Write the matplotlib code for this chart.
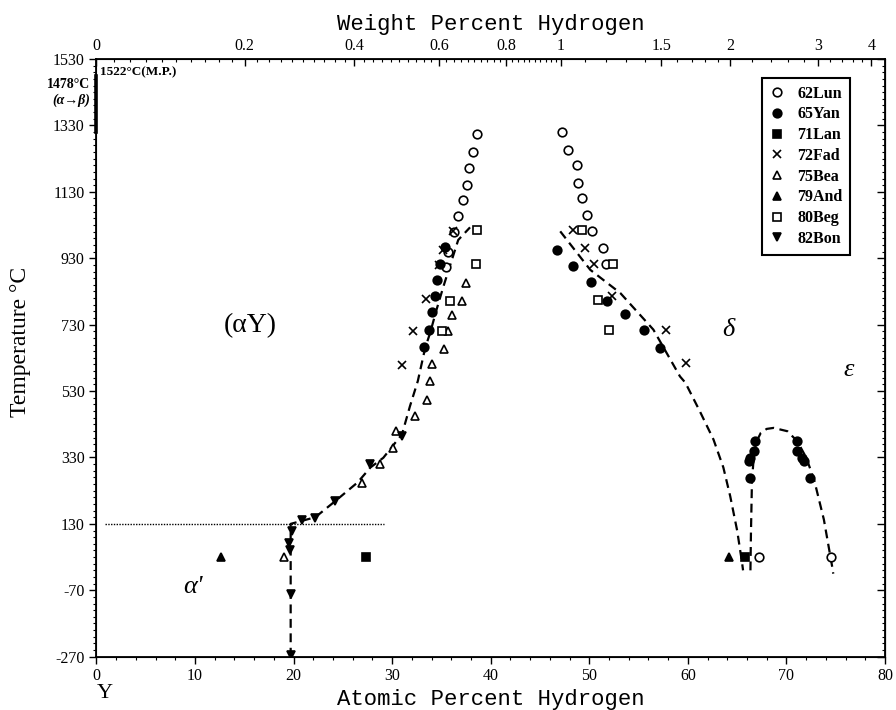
import matplotlib.pyplot as plt
import numpy as np

plt.rcParams['font.family'] = ['Liberation Serif', 'DejaVu Serif']
plt.rcParams['axes.unicode_minus'] = False

# data: (atomic % H, temperature in C)
lun_x = [38.6, 38.25, 37.8, 37.6, 37.2, 36.7, 36.3, 35.7, 35.45,
         47.2, 47.8, 48.75, 48.85, 49.25, 49.8, 50.3, 51.4, 51.7,
         67.2, 74.55]
lun_t = [1304, 1251, 1202, 1152, 1106, 1056, 1009, 950, 905,
         1310, 1256, 1211, 1158, 1111, 1061, 1013, 962, 913,
         30, 30]

yan_x = [35.4, 34.9, 34.5, 34.3, 34.0, 33.75, 33.25,
         46.7, 48.3, 50.2, 51.8, 53.65, 55.5, 57.2,
         66.85, 66.7, 66.35, 66.2, 66.35,
         71.1, 71.1, 71.6, 71.75, 72.35]
yan_t = [964, 913, 863, 815, 767, 713, 662,
         955, 907, 857, 800, 762, 713, 660,
         379, 349, 329, 320, 269,
         379, 349, 329, 319, 269]

lan_x = [27.3, 65.8]
lan_t = [30, 30]

fad_x = [36.15, 35.2, 34.7, 33.4, 32.1, 31.0,
         48.3, 49.6, 50.5, 52.3, 57.8, 59.85]
fad_t = [1011, 956, 910, 808, 712, 608,
         1014, 961, 913, 815, 715, 615]

bea_x = [37.5, 37.1, 36.05, 35.7, 35.3, 34.0, 33.85, 33.5, 32.3, 30.4,
         30.1, 28.8, 26.9, 19.0]
bea_t = [855, 802, 760, 710, 657, 610, 559, 504, 456, 409,
         359, 309, 254, 30]

and_x = [12.6, 64.2]
and_t = [30, 30]

beg_x = [38.6, 38.5, 35.9, 35.05, 49.25, 52.4, 50.9, 51.95]
beg_t = [1014, 912, 802, 710, 1014, 913, 805, 715]

bon_x = [31.0, 27.8, 24.2, 22.2, 20.8, 19.8, 19.5, 19.65, 19.7, 19.7]
bon_t = [394, 309, 198, 148, 143, 108, 71, 50, -80, -265]

# phase boundaries
ay_x = [19.7, 19.7, 20.7, 22.2, 24.2, 26.5, 27.8, 29.1, 31.0, 31.8, 32.6,
        33.35, 33.85, 34.5, 35.2, 36.0, 36.7, 37.9]
ay_t = [-270, 130, 138, 150, 198, 255, 300, 329, 400, 484, 560,
        660, 705, 775, 845, 920, 985, 1023]

delta_x = [47.05, 50.1, 53.15, 56.5, 59.2, 59.75, 61.2, 62.6, 63.6, 64.3, 65.0, 65.5, 65.6]
delta_t = [1011, 895, 825, 715, 574, 555, 470, 384, 300, 213, 110, 13, -10]

eps_x = [66.35, 66.4, 66.5, 66.7, 67.0, 67.4, 68.0, 68.7, 70.1, 71.1, 72.0, 72.8, 73.8, 74.65, 74.75]
eps_t = [-10, 100, 254, 340, 380, 404, 416, 419, 409, 379, 330, 264, 143, 0, -20]

y_ticks = [-270, -70, 130, 330, 530, 730, 930, 1130, 1330, 1530]
x_ticks = [0, 10, 20, 30, 40, 50, 60, 70, 80]
wt_ticks = [0, 0.2, 0.4, 0.6, 0.8, 1, 1.5, 2, 3, 4]
wt_labels = ['0', '0.2', '0.4', '0.6', '0.8', '1', '1.5', '2', '3', '4']


def wt_to_at(w):
    w = np.asarray(w, dtype=float)
    h = w / 1.008
    y = (100 - w) / 88.906
    return 100 * h / (h + y)


fig = plt.figure(figsize=(8.96, 7.10), dpi=100)
ax = fig.add_axes([0.1077, 0.0751, 0.880, 0.8418])

dash = dict(color='black', lw=1.6, ls=(0, (4, 2.5)))
ax.plot(ay_x, ay_t, **dash)
ax.plot(delta_x, delta_t, **dash)
ax.plot(eps_x, eps_t, **dash)
ax.plot([0.9, 29.2], [130, 130], color='black', lw=1.0, ls=(0, (1, 1)))

ms = 6.2
mk = dict(ls='none', color='black', mew=1.2)
ax.plot(lun_x, lun_t, marker='o', mfc='white', ms=ms, label='62Lun', **mk)
ax.plot(yan_x, yan_t, marker='o', mfc='black', ms=ms, label='65Yan', **mk)
ax.plot(lan_x, lan_t, marker='s', mfc='black', ms=ms, label='71Lan', **mk)
ax.plot(fad_x, fad_t, marker='x', ms=ms, label='72Fad', **mk)
ax.plot(bea_x, bea_t, marker='^', mfc='white', ms=ms, label='75Bea', **mk)
ax.plot(and_x, and_t, marker='^', mfc='black', ms=ms, label='79And', **mk)
ax.plot(beg_x, beg_t, marker='s', mfc='white', ms=ms, label='80Beg', **mk)
ax.plot(bon_x, bon_t, marker='v', mfc='black', ms=ms, label='82Bon', **mk)

ax.set_xlim(0, 80)
ax.set_ylim(-270, 1530)
ax.set_xticks(x_ticks)
ax.set_xticks(np.arange(0, 81, 2), minor=True)
ax.set_yticks(y_ticks)
ax.set_yticks(np.arange(-270, 1531, 20), minor=True)
ax.tick_params(axis='both', which='major', labelsize=11.5, direction='out', length=5, width=1)
ax.tick_params(axis='both', which='minor', direction='out', length=2.5, width=0.8)
for s in ax.spines.values():
    s.set_linewidth(1.3)

# right axis: inward ticks, no labels
axr = ax.secondary_yaxis('right')
axr.set_yticks(y_ticks)
axr.set_yticks(np.arange(-270, 1531, 20), minor=True)
axr.tick_params(which='major', direction='in', length=6, width=1, labelright=False)
axr.tick_params(which='minor', direction='in', length=2.5, width=0.8)

ax.set_xlabel('Atomic Percent Hydrogen', family=['Liberation Mono', 'DejaVu Sans Mono'], fontsize=16, labelpad=3)
ax.set_ylabel('Temperature °C', fontsize=17)
ax.yaxis.set_label_coords(-0.083, 0.527)

# top axis in weight percent
ax2 = ax.twiny()
ax2.set_xlim(0, 80)
ax2.set_xticks(wt_to_at(wt_ticks))
ax2.set_xticklabels(wt_labels)
minor_wt = list(np.arange(0.02, 1.0, 0.02)) + list(np.arange(1.1, 2.0, 0.1)) + list(np.arange(2.2, 4.0, 0.2))
ax2.set_xticks(wt_to_at(minor_wt), minor=True)
ax2.tick_params(axis='x', which='major', labelsize=11.5, direction='in', length=5, width=1)
ax2.tick_params(axis='x', which='minor', direction='in', length=2.5, width=0.8)
ax2.set_xlabel('Weight Percent Hydrogen', family=['Liberation Mono', 'DejaVu Sans Mono'], fontsize=16, labelpad=6)

# phase labels
ax.text(15.6, 727, '(αY)', fontsize=20, ha='center', va='center')
ax.text(64.1, 715, 'δ', fontsize=19, style='italic', ha='center', va='center')
ax.text(76.3, 594, 'ε', fontsize=19, style='italic', ha='center', va='center')
ax.text(9.8, -61, "α'", fontsize=19, style='italic', ha='center', va='center')
ax.text(0.4, 1490, '1522°C(M.P.)', fontsize=9.5, fontweight='bold', ha='left', va='center')
ax.text(-0.6, 1452, '1478°C', fontsize=10, fontweight='bold', ha='right', va='center')
ax.text(-0.6, 1405, '(α→β)', fontsize=10, fontweight='bold', style='italic', ha='right', va='center')
ax.plot([0, 0], [1310, 1478], color='black', lw=2.6, clip_on=False)
fig.text(0.117, 0.023, 'Y', fontsize=16, ha='center', va='center')

leg = ax.legend(loc='upper right', bbox_to_anchor=(0.956, 0.969), fancybox=False,
                edgecolor='black', framealpha=1, prop=dict(weight='bold', size=11.5),
                handlelength=0.9, handletextpad=0.8, labelspacing=0.3, borderpad=0.5,
                borderaxespad=0)
leg.get_frame().set_linewidth(1.5)

fig.savefig('out.png', dpi=100)
